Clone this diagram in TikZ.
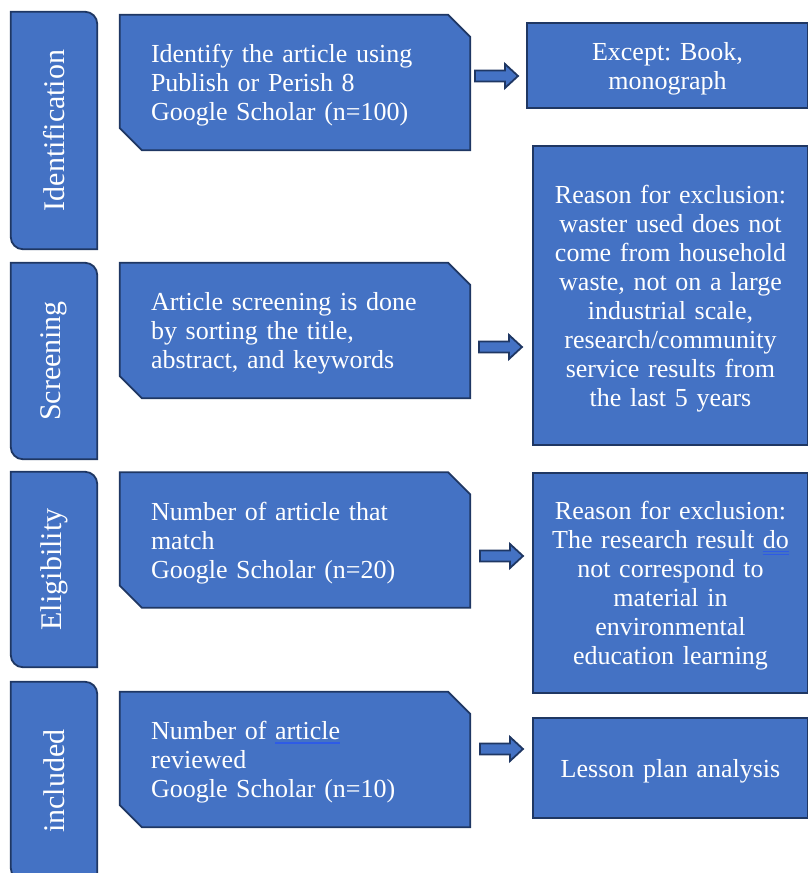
\documentclass[tikz,border=0pt]{standalone}
\usepackage{fontspec}
\setmainfont{Liberation Serif}
\usetikzlibrary{backgrounds}
\frenchspacing
\definecolor{boxblue}{HTML}{4472C4}
\definecolor{edgeblue}{HTML}{1F3763}
\definecolor{ulblue}{HTML}{2E5BE6}
\newsavebox\myulbox
\newcommand\ulsingle[1]{\sbox\myulbox{#1}\rlap{\textcolor{ulblue}{\rule[-4pt]{\wd\myulbox}{1.4pt}}}\usebox\myulbox}
\newcommand\uldouble[1]{\sbox\myulbox{#1}\rlap{\textcolor{ulblue}{\rule[-3pt]{\wd\myulbox}{1pt}}}\rlap{\textcolor{ulblue}{\rule[-6.5pt]{\wd\myulbox}{1pt}}}\usebox\myulbox}
\tikzset{
  boxtext/.style={inner sep=0pt, text=white, font=\fontsize{26}{29}\selectfont},
  midbox/.style={inner sep=0pt, minimum width=350pt, minimum height=135pt},
  midtext/.style={boxtext, text width=288pt, align=left},
  rightbox/.style={inner sep=0pt, fill=boxblue, draw=edgeblue, line width=1.8pt},
  righttext/.style={boxtext, text width=270pt, align=center},
  stagebox/.style={inner sep=0pt, minimum width=86pt, text=white, font=\fontsize{30}{34}\selectfont},
  shapestyle/.style={fill=boxblue, draw=edgeblue, line width=1.8pt, line join=miter},
  blockarrow/.style={fill=boxblue, draw=edgeblue, line width=1.8pt, line join=miter},
}
\begin{document}
\begin{tikzpicture}[x=1pt,y=-1pt]
\useasboundingbox (0,0) rectangle (807,873);
% stage boxes
\node[stagebox, minimum height=237pt] (s1) at (54,130.5) {\rotatebox{90}{Identification}};
\node[stagebox, minimum height=196pt] (s2) at (54,361) {\rotatebox{90}{Screening}};
\node[stagebox, minimum height=195pt] (s3) at (54,569.5) {\rotatebox{90}{Eligibility}};
\node[stagebox, minimum height=198pt] (s4) at (54,781) {\rotatebox{90}{included}};
% middle boxes
\node[midbox] (m1) at (295,82.5) {};
\node[midbox] (m2) at (295,330.5) {};
\node[midbox] (m3) at (295,540) {};
\node[midbox] (m4) at (295,759.5) {};
\node[midtext] (m1t) at ([yshift=-3pt]m1.center) {Identify the article using\\Publish or Perish 8\\Google Scholar (n=100)};
\node[midtext] (m2t) at ([yshift=-3pt]m2.center) {Article screening is done\\by sorting the title,\\abstract, and keywords};
\node[midtext] (m3t) at ([yshift=-3pt]m3.center) {Number of article that\\match\\Google Scholar (n=20)};
\node[midtext] (m4t) at ([yshift=-3pt]m4.center) {Number of \ulsingle{article}\\reviewed\\Google Scholar (n=10)};
% right boxes
\node[rightbox, minimum width=281pt, minimum height=85pt] (r1) at (667.5,65.5) {};
\node[rightbox, minimum width=275pt, minimum height=299pt] (r2) at (670.5,295.5) {};
\node[rightbox, minimum width=275pt, minimum height=220pt] (r3) at (670.5,583) {};
\node[rightbox, minimum width=275pt, minimum height=100pt] (r4) at (670.5,768) {};
\node[righttext] (r1t) at ([yshift=-3pt]r1.center) {Except: Book,\\monograph};
\node[righttext] (r2t) at ([yshift=-3pt]r2.center) {Reason for exclusion:\\waster used does not\\come from household\\waste, not on a large\\industrial scale,\\research/community\\service results from\\the last 5 years};
\node[righttext] (r3t) at ([yshift=-3pt]r3.center) {Reason for exclusion:\\The research result \uldouble{do}\\not correspond to\\material in\\environmental\\education learning};
\node[righttext] (r4t) at ([yshift=-3pt]r4.center) {Lesson plan analysis};
% shapes behind
\begin{scope}[on background layer]
\foreach \s in {s1,s2,s3,s4}{
  \draw[shapestyle] (\s.north west) -- ([xshift=-12pt]\s.north east) arc[start angle=90,end angle=0,radius=12pt]
     -- (\s.south east) -- ([xshift=12pt]\s.south west) arc[start angle=270,end angle=180,radius=12pt] -- cycle;
}
\foreach \m in {m1,m2,m3,m4}{
  \draw[shapestyle] (\m.north west) -- ([xshift=-22pt]\m.north east) -- ([yshift=-22pt]\m.north east)
     -- (\m.south east) -- ([xshift=22pt]\m.south west) -- ([yshift=22pt]\m.south west) -- cycle;
}
\end{scope}
% block arrows
\coordinate (a1) at (475,76);
\coordinate (a2) at (479,347);
\coordinate (a3) at (480,556);
\coordinate (a4) at (480,749);
\foreach \a in {a1,a2,a3,a4}{
  \draw[blockarrow] ([yshift=5.5pt]\a) -- ++(30pt,0pt) -- ++(0pt,6.5pt) -- ++(13pt,-12pt) -- ++(-13pt,-12pt) -- ++(0pt,6.5pt) -- ++(-30pt,0pt) -- cycle;
}
\end{tikzpicture}
\end{document}
